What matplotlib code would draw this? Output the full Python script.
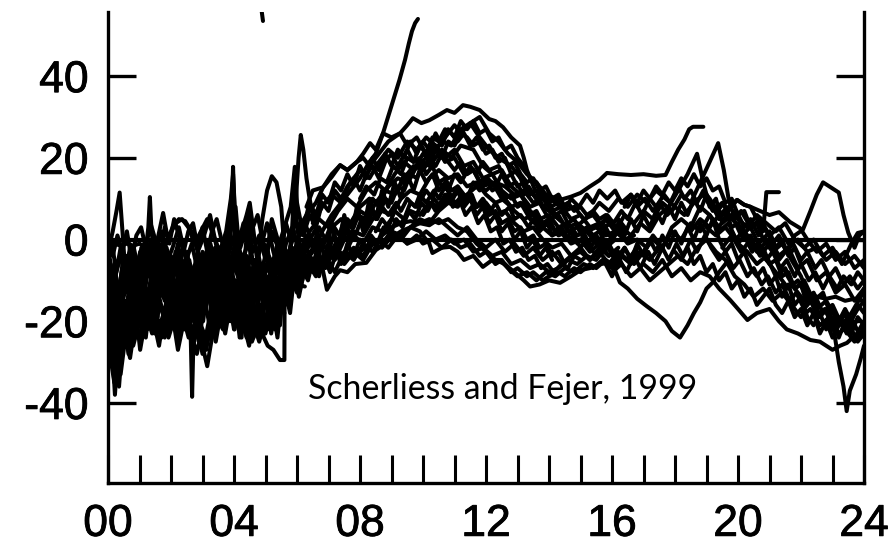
import matplotlib
matplotlib.use("Agg")
import matplotlib.pyplot as plt
import matplotlib.patheffects as pe
from matplotlib.ticker import FixedLocator, FuncFormatter

# Vertical plasma drift (m/s) versus local time (h), one trace per day.
# Each trace is a list of (local_time, drift) vertices.

night_01 = [(0.00, -6), (0.10, -22), (0.22, -38), (0.32, -27), (0.45, -18), (0.60, -24), (0.75, -12),
            (0.90, -17), (1.05, -9), (1.25, -14), (1.45, -6), (1.65, -16), (1.85, -21), (2.05, -12),
            (2.25, -18), (2.45, -8), (2.65, -14), (2.85, -4), (3.05, -11), (3.25, -6), (3.45, -15),
            (3.65, -8), (3.85, -13), (4.05, -4), (4.25, -10), (4.45, -18), (4.65, -9), (4.85, -14),
            (5.05, -6), (5.25, -11), (5.45, -3), (5.65, -8), (5.85, -2), (6.05, -6), (6.25, -1), (6.45, -5)]
night_02 = [(0.00, -3), (0.15, 2), (0.27, 7), (0.37, 11.5), (0.45, 3), (0.55, -8), (0.70, -2), (0.85, -11),
            (1.00, -4), (1.15, -1), (1.30, -9), (1.50, -3), (1.70, 2), (1.85, -6), (2.05, -2), (2.25, 3),
            (2.45, -4), (2.65, -10), (2.85, -3), (3.05, 1), (3.24, 6), (3.45, -2), (3.65, -9), (3.85, -3),
            (4.05, 2), (4.25, -5), (4.45, -1), (4.65, -7), (4.85, -2), (5.05, 4), (5.25, -3), (5.45, -8),
            (5.65, -1), (5.85, 3), (6.05, -2), (6.30, -6), (6.55, -1)]
night_03 = [(0.00, -12), (0.15, -18), (0.30, -31), (0.42, -20), (0.55, -15), (0.75, -22), (0.95, -14),
            (1.15, -6), (1.28, 3), (1.33, 10.4), (1.38, 2), (1.55, -8), (1.75, -14), (1.95, -7), (2.15, -13),
            (2.35, -5), (2.55, -11), (2.75, -16), (2.95, -9), (3.15, -14), (3.35, -6), (3.55, -12),
            (3.75, -4), (3.92, 5), (3.97, 17.8), (4.02, 6), (4.15, -6), (4.35, -14), (4.55, -7), (4.75, -16),
            (4.95, -10), (5.15, -19), (5.35, -12), (5.55, -6), (5.75, -10), (5.95, -4), (6.15, -9), (6.40, -5)]
night_04 = [(0.00, -8), (0.20, -14), (0.35, -24), (0.50, -17), (0.65, -28), (0.80, -19), (0.95, -21),
            (1.15, -16), (1.35, -20), (1.55, -13), (1.75, -18), (1.95, -22), (2.15, -15), (2.35, -19),
            (2.55, -14), (2.63, -25), (2.67, -38.5), (2.72, -22), (2.85, -17), (3.00, -26), (3.15, -31),
            (3.30, -24), (3.45, -18), (3.65, -21), (3.85, -12), (4.05, -17), (4.25, -21), (4.45, -14),
            (4.65, -19), (4.85, -12), (5.05, -16), (5.25, -9), (5.45, -13), (5.65, -7), (5.85, -11),
            (6.05, -6), (6.30, -9)]
night_05 = [(0.00, -15), (0.20, -10), (0.40, -4), (0.60, -9), (0.80, -3), (1.00, -7), (1.20, -1), (1.40, -5),
            (1.60, 1), (1.75, 6.5), (1.90, 0), (2.05, 3), (2.25, 5), (2.45, 4.5), (2.65, 2), (2.85, -3),
            (3.05, -6), (3.25, -1), (3.45, -7), (3.65, -2), (3.85, -8), (4.05, -3), (4.25, 2), (4.40, 6),
            (4.50, 9), (4.62, 2), (4.75, -6), (4.90, 5), (5.05, 12), (5.20, 15.5), (5.35, 14), (5.50, 8),
            (5.60, -2), (5.75, -9), (5.95, -4), (6.15, -8), (6.40, -3)]
night_06 = [(0.00, -20), (0.20, -27), (0.35, -36), (0.45, -26), (0.65, -19), (0.85, -24), (1.05, -19),
            (1.25, -22), (1.45, -17), (1.65, -21), (1.85, -16), (2.05, -20), (2.25, -23), (2.45, -16),
            (2.65, -20), (2.85, -13), (3.05, -18), (3.25, -12), (3.45, -19), (3.65, -22), (3.85, -15),
            (4.05, -19), (4.25, -17), (4.40, -23), (4.57, -25), (4.75, -21), (4.95, -24), (5.07, -26),
            (5.25, -27), (5.46, -29.5), (5.60, -29.5), (5.61, -4), (5.80, -6), (6.00, -11), (6.25, -11.5)]
night_07 = [(0.00, -10), (0.20, -16), (0.40, -12), (0.60, -20), (0.80, -26), (1.00, -20), (1.20, -13),
            (1.40, -18), (1.60, -10), (1.80, -15), (2.00, -9), (2.20, -24), (2.40, -17), (2.60, -11),
            (2.80, -19), (3.00, -12), (3.20, -20), (3.40, -15), (3.60, -21), (3.80, -14), (4.00, -20),
            (4.20, -11), (4.40, -16), (4.60, -22), (4.80, -17), (5.00, -23), (5.20, -15), (5.40, -20),
            (5.60, -12), (5.80, -7), (6.00, -10), (6.20, -4), (6.40, -8)]
night_08 = [(0.00, -1), (0.20, -1), (0.40, -1.5), (0.60, -1), (0.80, -1.5), (1.00, -1), (1.20, -2),
            (1.40, -1), (1.60, -1), (1.75, -3), (1.95, 1), (2.15, 4), (2.35, 5), (2.55, 3), (2.75, -1),
            (2.95, 2), (3.15, 5), (3.35, 1), (3.55, -3), (3.75, 2), (3.90, 10), (3.97, 16), (4.05, 4),
            (4.20, -2), (4.40, 3), (4.60, -3), (4.80, 1), (5.00, -5), (5.20, 2), (5.40, -2), (5.60, 3),
            (5.80, 8), (5.93, 17.8), (6.00, 9), (6.15, 3), (6.35, -1), (6.55, 2)]
night_09 = [(0.00, -2), (0.15, -9), (0.30, -15), (0.45, -7), (0.60, -13), (0.80, -5), (1.00, -10),
            (1.20, -3), (1.40, -11), (1.60, -6), (1.80, -12), (2.00, -4), (2.20, -9), (2.40, -2), (2.60, -7),
            (2.80, -12), (3.00, -5), (3.20, -10), (3.40, -3), (3.60, -8), (3.80, -13), (4.00, -6),
            (4.20, -11), (4.40, -4), (4.60, -12), (4.80, -6), (5.00, -13), (5.20, -7), (5.40, -14),
            (5.60, -8), (5.80, -12), (6.00, -7), (6.20, -3), (6.40, -7)]
night_10 = [(0.00, -25), (0.10, -30), (0.20, -35), (0.30, -28), (0.40, -33), (0.55, -24), (0.70, -29),
            (0.85, -21), (1.00, -24), (1.20, -18), (1.40, -23), (1.60, -20), (1.80, -24), (2.00, -17),
            (2.20, -21), (2.40, -18), (2.60, -23), (2.80, -20), (3.00, -28), (3.20, -24), (3.40, -17),
            (3.60, -13), (3.80, -18), (4.00, -11), (4.20, -19), (4.40, -24), (4.60, -20), (4.80, -25),
            (5.00, -19), (5.20, -22), (5.40, -16), (5.60, -18)]
night_11 = [(0.00, -14), (0.20, -6), (0.40, -18), (0.60, -10), (0.80, -16), (1.00, -11), (1.20, -17),
            (1.40, -9), (1.60, -15), (1.80, -9), (2.00, -16), (2.20, -10), (2.40, -14), (2.60, -6),
            (2.80, -10), (3.00, -3), (3.20, -8), (3.40, -2), (3.60, -6), (3.80, 1), (3.95, 12), (4.05, -2),
            (4.20, -8), (4.30, -18), (4.45, -22), (4.60, -14), (4.70, -23), (4.85, -16), (5.00, -21),
            (5.15, -12), (5.30, -22), (5.45, -14), (5.60, -5), (5.80, -9), (6.00, -4), (6.20, -8)]
night_12 = [(0.00, -17), (0.15, -23), (0.30, -19), (0.50, -12), (0.70, -7), (0.90, -12), (1.10, -18),
            (1.30, -12), (1.50, -20), (1.70, -24), (1.90, -18), (2.10, -11), (2.30, -14), (2.50, -21),
            (2.70, -26), (2.90, -20), (3.10, -24), (3.30, -16), (3.50, -10), (3.70, -16), (3.90, -7),
            (4.10, -13), (4.30, -8), (4.50, -13), (4.70, -5), (4.90, -11), (5.10, -4), (5.30, -7),
            (5.50, 0), (5.70, -4), (5.90, 1), (6.10, -3)]
night_13 = [(4.86, 57), (4.92, 53.5)]
night_14 = [(0.00, -9), (0.12, -16), (0.25, -11), (0.38, -24), (0.50, -15), (0.62, -21), (0.78, -8),
            (0.92, -13), (1.08, -22), (1.22, -15), (1.38, -19), (1.52, -8), (1.68, -12), (1.82, -4),
            (1.98, -10), (2.12, -19), (2.28, -13), (2.42, -22), (2.58, -15), (2.72, -9), (2.88, -14),
            (3.02, -20), (3.18, -10), (3.32, -16), (3.48, -7), (3.62, -12), (3.78, -18), (3.92, -9),
            (4.08, -14), (4.22, -5), (4.38, -12), (4.52, -20), (4.68, -11), (4.82, -22), (4.98, -13),
            (5.12, -18), (5.28, -8), (5.42, -15), (5.58, -10), (5.72, -14), (5.88, -6), (6.02, -11),
            (6.18, -5), (6.35, -9)]
night_15 = [(0.00, -18), (0.10, -12), (0.22, -20), (0.35, -14), (0.48, -22), (0.62, -16), (0.75, -5),
            (0.88, -9), (1.02, -3), (1.18, -12), (1.32, -17), (1.48, -23), (1.62, -14), (1.78, -19),
            (1.92, -11), (2.08, -6), (2.22, -1), (2.38, -8), (2.52, -3), (2.68, -17), (2.82, -22),
            (2.98, -14), (3.12, -8), (3.28, -18), (3.42, -23), (3.58, -16), (3.72, -10), (3.88, -20),
            (4.02, -13), (4.18, -24), (4.32, -17), (4.48, -21), (4.62, -10), (4.78, -4), (4.92, -9),
            (5.08, -15), (5.22, -6), (5.38, -1), (5.52, -7), (5.68, -3), (5.82, -8), (5.98, -1), (6.12, -5)]
night_16 = [(0.00, 0), (0.15, -4), (0.30, 1), (0.45, -3), (0.60, 2), (0.75, -5), (0.90, 1), (1.05, 3),
            (1.20, -2), (1.35, 4), (1.50, 0), (1.65, -4), (1.80, 3), (1.95, -1), (2.10, 5), (2.25, 1),
            (2.40, -3), (2.55, 2), (2.70, 4), (2.85, -2), (3.00, 3), (3.15, -3), (3.30, 2), (3.45, 5),
            (3.60, 0), (3.75, -4), (3.90, 3), (4.05, 8), (4.15, -1), (4.30, 4), (4.45, -2), (4.60, 3),
            (4.75, 6), (4.90, 0), (5.05, -3), (5.20, 5), (5.35, 1), (5.50, -3), (5.65, 4), (5.80, 0),
            (5.95, 5), (6.10, 1), (6.25, 4), (6.45, 0)]
night_17 = [(0.00, -30), (0.15, -22), (0.28, -33), (0.42, -24), (0.58, -18), (0.72, -25), (0.88, -17),
            (1.02, -27), (1.18, -20), (1.32, -14), (1.48, -21), (1.62, -26), (1.78, -18), (1.92, -24),
            (2.08, -20), (2.22, -27), (2.38, -21), (2.52, -16), (2.68, -24), (2.82, -28), (2.98, -22),
            (3.12, -27), (3.28, -19), (3.42, -25), (3.58, -18), (3.72, -23), (3.88, -16), (4.02, -22),
            (4.18, -15), (4.32, -21), (4.48, -26), (4.62, -19), (4.78, -23), (4.92, -18), (5.08, -22),
            (5.22, -16), (5.38, -24), (5.52, -13)]
night_18 = [(0.00, -11), (0.18, -7), (0.34, -13), (0.50, -4), (0.66, -10), (0.82, -2), (0.98, -8),
            (1.14, -14), (1.30, -6), (1.46, -11), (1.62, -5), (1.78, -10), (1.94, -16), (2.10, -8),
            (2.26, -3), (2.42, -10), (2.58, -5), (2.74, -12), (2.90, -18), (3.06, -10), (3.22, -15),
            (3.38, -9), (3.54, -4), (3.70, -9), (3.86, -2), (3.96, 14), (4.04, -3), (4.20, -9), (4.36, -3),
            (4.48, 8), (4.56, -4), (4.72, -11), (4.88, -6), (5.04, -14), (5.20, -8), (5.36, -13),
            (5.52, -4), (5.68, -9), (5.84, 2), (5.92, 14), (6.00, 3), (6.16, -4), (6.32, -1)]
night_19 = [(0.00, -22), (0.14, -15), (0.28, -25), (0.42, -12), (0.56, -19), (0.70, -11), (0.84, -16),
            (0.98, -7), (1.12, -12), (1.26, -18), (1.40, -12), (1.54, -17), (1.68, -9), (1.82, -13),
            (1.96, -7), (2.10, -14), (2.24, -20), (2.38, -12), (2.52, -18), (2.66, -10), (2.80, -6),
            (2.94, -12), (3.08, -7), (3.22, -13), (3.36, -20), (3.50, -14), (3.64, -19), (3.78, -11),
            (3.92, -17), (4.06, -10), (4.20, -16), (4.34, -11), (4.48, -19), (4.62, -24), (4.76, -15),
            (4.90, -20), (5.04, -12), (5.18, -23), (5.32, -17), (5.46, -21), (5.56, -12), (5.70, -16),
            (5.84, -10), (6.00, -13), (6.20, -7)]
night_20 = [(0.00, -5), (0.13, -1), (0.26, -8), (0.40, -2), (0.53, -12), (0.66, -6), (0.80, -14),
            (0.93, -8), (1.06, -2), (1.20, -7), (1.33, -1), (1.46, -9), (1.60, -3), (1.73, -8), (1.86, -2),
            (2.00, -7), (2.13, -13), (2.26, -6), (2.40, -11), (2.53, -4), (2.66, -1), (2.80, -6),
            (2.93, -11), (3.06, -5), (3.20, -2), (3.33, -8), (3.46, -12), (3.60, -5), (3.73, -1),
            (3.86, -6), (4.00, -2), (4.13, -9), (4.26, -4), (4.40, -10), (4.53, -3), (4.66, -8),
            (4.80, -13), (4.93, -6), (5.06, -2), (5.20, -9), (5.33, -4), (5.46, -10), (5.60, -2),
            (5.73, -6), (5.86, -3), (6.00, -8), (6.13, -2), (6.30, -6)]
night_21 = [(0.00, -13), (0.12, -19), (0.24, -8), (0.36, -17), (0.50, -26), (0.64, -14), (0.78, -20),
            (0.92, -11), (1.06, -17), (1.20, -24), (1.34, -14), (1.48, -4), (1.62, -10), (1.76, -6),
            (1.90, -13), (2.04, -20), (2.18, -16), (2.32, -6), (2.46, -13), (2.60, -18), (2.74, -13),
            (2.88, -25), (3.02, -18), (3.16, -10), (3.30, -4), (3.44, -10), (3.58, -14), (3.72, -7),
            (3.86, -15), (4.00, -22), (4.14, -14), (4.28, -20), (4.42, -9), (4.56, -16), (4.70, -12),
            (4.84, -19), (4.98, -23), (5.12, -16), (5.26, -20), (5.40, -11), (5.54, -17), (5.68, -10),
            (5.82, -4), (5.96, -9), (6.10, -12), (6.30, -6)]
night_22 = [(0.00, -7), (0.16, -12), (0.32, -20), (0.46, -10), (0.60, -4), (0.74, -15), (0.88, -22),
            (1.02, -16), (1.16, -9), (1.30, -3), (1.44, -14), (1.58, -19), (1.72, -2), (1.86, -8),
            (2.00, -13), (2.14, -3), (2.28, -9), (2.42, -20), (2.56, -24), (2.70, -15), (2.84, -9),
            (2.98, -18), (3.12, -3), (3.26, -11), (3.40, -17), (3.54, -21), (3.68, -13), (3.82, -6),
            (3.96, -12), (4.10, -18), (4.24, -24), (4.38, -6), (4.52, -14), (4.66, -5), (4.80, -9),
            (4.94, -17), (5.08, -9), (5.22, -13), (5.36, -19), (5.50, -9), (5.64, -13), (5.78, -18),
            (5.92, -8), (6.06, -14), (6.22, -8)]

day_01 = [(6.0, 2), (6.3, 6), (6.6, 9), (6.83, 12.8), (7.1, 16), (7.37, 18.2), (7.6, 17), (7.9, 19),
          (8.1, 21), (8.32, 23.6), (8.5, 22), (8.73, 26), (9.0, 25), (9.27, 26), (9.5, 28), (9.68, 29.7),
          (9.95, 28.5), (10.2, 29.2), (10.5, 30.5), (10.76, 31.7), (11.0, 31), (11.27, 32.9), (11.5, 32.5),
          (11.8, 31.7), (12.1, 29.5), (12.3, 29), (12.54, 27.5), (12.8, 25), (13.08, 23), (13.2, 20),
          (13.3, 17), (13.56, 12), (13.9, 11), (14.35, 9.7), (14.7, 10.5), (15.0, 11.4), (15.3, 13),
          (15.6, 14.5), (15.84, 16.3), (16.2, 16), (16.6, 15.8), (17.0, 16), (17.4, 15.6), (17.7, 15.8),
          (17.9, 19), (18.1, 22), (18.3, 24.5), (18.45, 27), (18.57, 27.6), (18.9, 27.6)]
day_02 = [(5.9, -3), (6.2, -6), (6.5, -3), (6.8, 2), (7.1, 6), (7.4, 9), (7.7, 12), (8.0, 15), (8.3, 19),
          (8.5, 21), (8.73, 26), (9.05, 34), (9.25, 39), (9.43, 44), (9.55, 48), (9.65, 51), (9.75, 53),
          (9.84, 54)]
day_03 = [(5.8, -2), (5.95, 8), (6.05, 20), (6.12, 25.6), (6.2, 22), (6.3, 15), (6.4, 10), (6.55, 4),
          (6.7, -3), (6.95, -12.3), (7.2, -9), (7.37, -7.5), (7.6, -8), (7.85, -6), (8.2, -5.7), (8.5, -2.6),
          (8.8, -1), (9.0, 0.5), (9.3, 2), (9.6, 3), (9.9, 4), (10.2, 5), (10.5, 4), (10.8, 5), (11.1, 3),
          (11.4, 2), (11.7, -1), (12.0, -3), (12.3, -5), (12.6, -6), (12.9, -8), (13.2, -10), (13.4, -11.5),
          (13.7, -11), (14.0, -10), (14.35, -10.6), (14.7, -9), (15.0, -7.5), (15.3, -7), (15.6, -6),
          (16.0, -5.7), (16.25, -10.5), (16.5, -12), (16.8, -14.5), (17.1, -16.3), (17.4, -18), (17.7, -20),
          (17.9, -22.4), (18.16, -24), (18.4, -21), (18.6, -18), (18.8, -15.4), (19.0, -12), (19.2, -10.5),
          (19.4, -8), (19.7, -5)]
day_04 = [(6.0, -8), (6.3, -5), (6.6, -9), (6.9, -6), (7.2, -3), (7.5, -5), (7.8, -2), (8.1, -4), (8.4, 0),
          (8.7, -1), (9.0, 2), (9.3, 1), (9.6, 3), (9.9, 2), (10.2, -1), (10.3, -3.3), (10.6, -2),
          (10.86, -1.8), (11.1, -3), (11.3, -5), (11.6, -4), (11.9, -6.7), (12.2, -5), (12.44, -5),
          (12.7, -7), (13.0, -9), (13.3, -8), (13.6, -10), (13.9, -8), (14.2, -9), (14.5, -7), (14.8, -8),
          (15.1, -6), (15.4, -7), (15.7, -5), (16.0, -7), (16.3, -4), (16.6, -6), (16.9, -3), (17.2, -5),
          (17.5, -2)]
day_05 = [(6.2, -4), (6.5, 0), (6.8, -2), (7.1, 3), (7.4, 5), (7.7, 4), (8.0, 8), (8.3, 10), (8.6, 9),
          (8.9, 13), (9.2, 15), (9.5, 14), (9.8, 18), (10.1, 20), (10.4, 22), (10.7, 25), (11.0, 28),
          (11.2, 26), (11.5, 28.5), (11.8, 25), (12.1, 22), (12.4, 20), (12.8, 18), (13.1, 15), (13.4, 12),
          (13.7, 9), (14.0, 7), (14.3, 5), (14.6, 3), (14.9, 4), (15.2, 2), (15.5, 3), (15.8, 1), (16.1, 2),
          (16.4, 0), (16.7, 1)]
day_06 = [(6.4, 2), (6.7, 5), (7.0, 3), (7.3, 7), (7.6, 10), (7.9, 8), (8.2, 12), (8.5, 14), (8.8, 12),
          (9.1, 16), (9.4, 19), (9.7, 17), (10.0, 21), (10.3, 19), (10.6, 22), (10.9, 20), (11.2, 23),
          (11.6, 22), (11.9, 18), (12.2, 16), (12.5, 17), (12.8, 13), (13.1, 11), (13.4, 8), (13.7, 9),
          (14.0, 5), (14.3, 6), (14.6, 2), (14.9, 3), (15.2, -1), (15.5, 1), (15.8, -2), (16.1, 0)]
day_07 = [(6.0, -10), (6.3, -6), (6.6, -8), (6.9, -3), (7.2, -5), (7.5, 0), (7.8, 2), (8.1, 1), (8.4, 5),
          (8.7, 7), (9.0, 6), (9.3, 10), (9.6, 12), (9.9, 11), (10.2, 15), (10.5, 17), (10.8, 15),
          (11.1, 16), (11.4, 13), (11.7, 14), (12.0, 11), (12.3, 9), (12.6, 10), (12.9, 7), (13.2, 5),
          (13.5, 6), (13.8, 3), (14.1, 1), (14.4, 2), (14.7, -1), (15.0, 0), (15.3, -3), (15.6, -1),
          (15.9, -4), (16.2, -2)]
day_08 = [(6.5, 4), (6.8, 8), (7.1, 11), (7.4, 9), (7.7, 14), (8.0, 17), (8.3, 15), (8.6, 19), (8.9, 22),
          (9.2, 20), (9.5, 24), (9.8, 22), (10.1, 25), (10.4, 23), (10.7, 20), (11.0, 22), (11.3, 18),
          (11.6, 19), (11.9, 15), (12.2, 16), (12.5, 12), (12.8, 10), (13.1, 11), (13.4, 7), (13.7, 5),
          (14.0, 6), (14.3, 3), (14.6, 4), (14.9, 1), (15.2, 2), (15.5, -1)]
day_09 = [(6.0, -5), (6.3, -9), (6.6, -4), (6.9, -7), (7.2, -2), (7.5, -4), (7.8, 1), (8.1, -1), (8.4, 3),
          (8.7, 2), (9.0, 5), (9.3, 4), (9.6, 7), (9.9, 6), (10.2, 9), (10.5, 8), (10.8, 10), (11.1, 9),
          (11.4, 11), (11.7, 8), (12.0, 9), (12.3, 6), (12.6, 7), (12.9, 4), (13.2, 2), (13.5, 3), (13.8, 0),
          (14.1, -2), (14.4, -1), (14.7, -4), (15.0, -2), (15.3, -5), (15.6, -3), (15.9, -6), (16.2, -3),
          (16.5, -5), (16.8, -2)]
day_10 = [(7.0, -4), (7.3, 0), (7.6, 3), (7.9, 6), (8.2, 5), (8.5, 9), (8.8, 12), (9.1, 11), (9.4, 15),
          (9.7, 18), (10.0, 17), (10.3, 21), (10.6, 24), (10.9, 23), (11.2, 27), (11.5, 28.5), (11.8, 30),
          (12.1, 26), (12.4, 24), (12.7, 21), (13.0, 19), (13.3, 16), (13.6, 14), (13.9, 11), (14.2, 9),
          (14.5, 7), (14.8, 8), (15.1, 5), (15.4, 6), (15.7, 3), (16.0, 4), (16.3, 2)]
day_11 = [(6.6, -7), (6.9, -4), (7.2, -8), (7.5, -3), (7.8, -5), (8.1, -1), (8.4, -3), (8.7, 1), (9.0, 3),
          (9.3, 4), (9.6, 4.5), (9.9, 4), (10.2, 3.5), (10.5, 5), (10.8, 3), (11.1, 1), (11.4, 3), (11.7, 0),
          (12.0, -2), (12.3, 0), (12.6, -3), (12.9, -1), (13.2, -4), (13.5, -2), (13.8, -5), (14.1, -3),
          (14.4, -6), (14.7, -4), (15.0, -3), (15.3, -5), (15.6, -2), (15.9, -4)]
day_12 = [(6.3, 8), (6.5, 12), (6.83, 12.8), (7.1, 15.3), (7.37, 18.2), (7.6, 17), (7.9, 19), (8.1, 20),
          (8.3, 18), (8.6, 21), (8.9, 24), (9.27, 26), (9.5, 23), (9.8, 25), (10.1, 21), (10.4, 23),
          (10.7, 19), (11.0, 20), (11.3, 16), (11.6, 17), (11.9, 13), (12.2, 14), (12.5, 10), (12.8, 8),
          (13.1, 9), (13.4, 5), (13.7, 3), (14.0, 4), (14.3, 1), (14.6, 2)]
day_13 = [(7.5, -6), (7.8, -3), (8.1, -5), (8.4, -1), (8.7, -2), (9.0, 1), (9.3, 0), (9.6, 3), (9.9, 5),
          (10.2, 4), (10.5, 7), (10.8, 9), (11.1, 8), (11.4, 11), (11.7, 13), (12.0, 12), (12.3, 14),
          (12.6, 13), (12.9, 11), (13.2, 12), (13.5, 9), (13.8, 10), (14.1, 7), (14.4, 8), (14.7, 5),
          (15.0, 6), (15.3, 3), (15.6, 4), (15.9, 1), (16.2, 2), (16.5, -1), (16.8, 0), (17.1, -2)]
day_14 = [(8.0, -3), (8.3, -1), (8.6, 0), (8.9, -2), (9.2, 1), (9.5, -1), (9.8, 0), (10.1, 2), (10.4, 0),
          (10.7, 1), (11.0, -1), (11.3, 0), (11.6, -3), (11.9, -2), (12.2, -4), (12.5, -3), (12.8, -6),
          (13.1, -5), (13.4, -7), (13.7, -6), (14.0, -8), (14.3, -7), (14.6, -5), (14.9, -6), (15.2, -4),
          (15.5, -5), (15.8, -2), (16.1, -3)]
day_15 = [(6.2, -8), (6.4, -4), (6.6, -6), (6.8, -1), (7.0, -3), (7.2, 2), (7.4, 1), (7.6, 5), (7.8, 3),
          (8.0, 7), (8.2, 6), (8.4, 10), (8.6, 8), (8.8, 12), (9.0, 14), (9.2, 12), (9.4, 16), (9.6, 15),
          (9.8, 18), (10.0, 17), (10.2, 20), (10.4, 18), (10.6, 21), (10.8, 19), (11.0, 17), (11.2, 19),
          (11.4, 16), (11.6, 17), (11.8, 14), (12.0, 15), (12.2, 12), (12.4, 13), (12.6, 10), (12.8, 11),
          (13.0, 8), (13.2, 9), (13.4, 6), (13.6, 7), (13.8, 4), (14.0, 5), (14.2, 2), (14.4, 3), (14.6, 0),
          (14.8, 1), (15.0, -2), (15.2, 0), (15.4, -3)]
day_16 = [(6.8, -6), (7.0, -2), (7.2, -4), (7.4, 0), (7.6, 2), (7.8, 0), (8.0, 4), (8.2, 3), (8.4, 7),
          (8.6, 6), (8.8, 10), (9.0, 9), (9.2, 13), (9.4, 12), (9.6, 16), (9.8, 15), (10.0, 19), (10.2, 18),
          (10.4, 22), (10.6, 20), (10.8, 24), (11.0, 23), (11.2, 26), (11.4, 25), (11.6, 23), (11.8, 24),
          (12.0, 21), (12.2, 22), (12.4, 19), (12.6, 20), (12.8, 16), (13.0, 17), (13.2, 13), (13.4, 11),
          (13.6, 12), (13.8, 8), (14.0, 9), (14.2, 6), (14.4, 7), (14.6, 4), (14.8, 5), (15.0, 2),
          (15.2, 3), (15.4, 1), (15.6, 2), (15.8, -1), (16.0, 0)]
day_17 = [(6.1, -3), (6.3, 1), (6.5, -2), (6.7, 3), (6.9, 0), (7.1, 4), (7.35, 1), (7.5, 5), (7.7, 3),
          (7.95, 6), (8.1, 4), (8.3, 7), (8.55, 5), (8.7, 8), (8.9, 6), (9.15, 9), (9.3, 7), (9.5, 10),
          (9.75, 8), (9.9, 11), (10.1, 9), (10.35, 12), (10.5, 10), (10.7, 13), (10.95, 10), (11.1, 12),
          (11.3, 9), (11.55, 11), (11.7, 8), (11.9, 10), (12.15, 7), (12.3, 9), (12.5, 6), (12.75, 8),
          (12.9, 5), (13.1, 6), (13.35, 3), (13.5, 5), (13.7, 2), (13.95, 4), (14.1, 1), (14.3, 3),
          (14.55, 0), (14.7, 2), (14.9, -1), (15.15, 1), (15.3, -2), (15.5, 0), (15.75, -3), (15.9, -1),
          (16.1, -4)]
day_18 = [(6.0, 4), (6.2, 1), (6.4, 6), (6.6, 3), (6.8, 9), (7.0, 7), (7.2, 12), (7.4, 10), (7.6, 13),
          (7.8, 15), (8.0, 12), (8.2, 16), (8.4, 18), (8.6, 15), (8.8, 19), (9.0, 21), (9.2, 18), (9.5, 22),
          (9.7, 19), (9.9, 20), (10.1, 16), (10.3, 18), (10.5, 14), (10.7, 15), (10.9, 12), (11.1, 13),
          (11.3, 10), (11.5, 11), (11.7, 8), (11.9, 9), (12.1, 6), (12.3, 7), (12.5, 4), (12.7, 5), (12.9, 2),
          (13.1, 3), (13.3, 0), (13.5, 1), (13.7, -2), (13.9, -1), (14.1, -4), (14.3, -3), (14.5, -6)]
day_19 = [(8.5, 2), (8.7, 5), (8.9, 3), (9.1, 7), (9.4, 5), (9.6, 9), (9.8, 8), (10.1, 12), (10.3, 10),
          (10.5, 14), (10.8, 12), (11.0, 16), (11.2, 14), (11.5, 18), (11.7, 16), (11.9, 19), (12.1, 17),
          (12.4, 18), (12.6, 15), (12.8, 16), (13.0, 13), (13.2, 14), (13.4, 12), (13.6, 10), (13.8, 11),
          (14.0, 9), (14.2, 10), (14.4, 8), (14.6, 9), (14.8, 7), (15.0, 8), (15.2, 6), (15.4, 7), (15.6, 5),
          (15.8, 6), (16.0, 4), (16.2, 5), (16.4, 3)]
day_20 = [(9.5, -1), (9.8, 1), (10.0, -1), (10.3, 0), (10.6, -2), (10.9, 0), (11.2, -2), (11.5, -1),
          (11.8, -4), (12.0, -3), (12.3, -6), (12.5, -5), (12.8, -8), (13.0, -7), (13.3, -9), (13.5, -8),
          (13.8, -10), (14.0, -9), (14.3, -8), (14.5, -9), (14.8, -7), (15.0, -8), (15.3, -6), (15.5, -7),
          (15.8, -5), (16.0, -6), (16.3, -4), (16.5, -5), (16.8, -3)]
day_21 = [(5.9, -6), (6.1, -11), (6.3, -4), (6.5, -8), (6.7, 1), (6.9, -5), (7.1, 4), (7.3, -2), (7.5, 6),
          (7.7, 0), (7.9, 8), (8.1, 2), (8.3, 10), (8.5, 5), (8.7, 12), (8.9, 8), (9.1, 14), (9.3, 10),
          (9.5, 16), (9.7, 12), (9.9, 17), (10.1, 14), (10.3, 16), (10.5, 12), (10.7, 14), (10.9, 10),
          (11.1, 12), (11.3, 8), (11.5, 10), (11.7, 6), (11.9, 8), (12.1, 4), (12.3, 6), (12.5, 2), (12.7, 4),
          (12.9, 0), (13.1, 2), (13.3, -2), (13.5, 0), (13.7, -4), (13.9, -2), (14.1, -5)]
day_22 = [(6.2, 3), (6.4, 9), (6.6, 6), (6.8, 11), (7.0, 9), (7.2, 14), (7.4, 12), (7.6, 16), (7.8, 13),
          (8.0, 18), (8.2, 15), (8.4, 20), (8.6, 17), (8.8, 21), (9.0, 18), (9.2, 22), (9.4, 20), (9.6, 24),
          (9.8, 21), (10.0, 24), (10.2, 22), (10.4, 26), (10.6, 23), (10.8, 27), (11.0, 25), (11.2, 29),
          (11.4, 27), (11.6, 29), (11.8, 26), (12.0, 27), (12.2, 24), (12.4, 25), (12.6, 22), (12.8, 23),
          (13.0, 20), (13.2, 18), (13.4, 15), (13.6, 14), (13.8, 11), (14.0, 10)]
day_23 = [(10.0, 6), (10.25, 9), (10.4, 7), (10.7, 11), (10.85, 9), (11.1, 13), (11.4, 10), (11.6, 14),
          (11.8, 12), (12.05, 15), (12.3, 13), (12.5, 16), (12.7, 13), (12.95, 14), (13.2, 11), (13.35, 13),
          (13.6, 10), (13.8, 11), (14.05, 8), (14.3, 9), (14.5, 7), (14.7, 10), (14.95, 8), (15.2, 11),
          (15.4, 9), (15.6, 12), (15.85, 10), (16.1, 12), (16.3, 9), (16.6, 11), (16.8, 8), (17.05, 10),
          (17.3, 7), (17.5, 9), (17.75, 6), (18.0, 8)]
day_24 = [(6.0, -12), (6.15, -7), (6.35, -10), (6.5, -5), (6.7, -9), (6.85, -4), (7.05, -8), (7.25, -3),
          (7.4, -6), (7.6, -1), (7.8, -4), (8.0, 0), (8.2, -3), (8.35, 1), (8.55, -1), (8.75, 3), (8.95, 1),
          (9.15, 5), (9.35, 3), (9.55, 7), (9.75, 5), (9.95, 9), (10.15, 7), (10.35, 10), (10.55, 8),
          (10.75, 11), (10.95, 8), (11.15, 10), (11.35, 6), (11.55, 8), (11.75, 4), (11.95, 6), (12.15, 2),
          (12.35, 3), (12.55, -1), (12.75, 0), (12.95, -3), (13.15, -2), (13.35, -5), (13.55, -4),
          (13.75, -7), (13.95, -6), (14.15, -8), (14.4, -6), (14.6, -7), (14.8, -4), (15.0, -5)]
day_25 = [(8.0, 10), (8.2, 13), (8.45, 11), (8.65, 15), (8.85, 14), (9.05, 18), (9.3, 16), (9.5, 20),
          (9.7, 19), (9.9, 23), (10.1, 21), (10.3, 25), (10.5, 24), (10.7, 27), (10.9, 26), (11.1, 24),
          (11.3, 26), (11.5, 23), (11.7, 25), (11.9, 22), (12.1, 23), (12.3, 20), (12.5, 21), (12.7, 18),
          (12.9, 19), (13.1, 16), (13.3, 14), (13.5, 15), (13.7, 12), (13.9, 13), (14.1, 10), (14.3, 11),
          (14.5, 8)]

eve_02 = [(15.5, 3), (15.8, 5), (16.1, 2), (16.4, 6), (16.7, 4), (17.0, 7), (17.3, 5), (17.6, 9), (17.9, 7),
          (18.2, 11), (18.5, 9), (18.8, 14), (19.1, 19), (19.37, 23.6), (19.55, 17), (19.7, 10), (19.9, 5),
          (20.1, 7), (20.4, 3), (20.7, 5), (21.0, 1), (21.3, 3), (21.6, -1), (21.9, 0), (22.2, -3),
          (22.5, -2), (22.8, -5), (23.1, -3), (23.4, -6), (23.7, -4), (24.0, -7)]
eve_03 = [(16.0, 0), (16.3, 3), (16.6, 1), (16.9, 4), (17.2, 2), (17.5, 6), (17.8, 8), (18.1, 12),
          (18.4, 16), (18.7, 21), (18.9, 14), (19.1, 8), (19.3, 10), (19.5, 4), (19.8, 6), (20.1, 1),
          (20.4, 3), (20.7, -2), (21.0, 0), (21.3, -4), (21.6, -2), (21.9, -7), (22.2, -5), (22.5, -10),
          (22.8, -8), (23.1, -13), (23.4, -11), (23.7, -15), (24.0, -12)]
eve_04 = [(17.0, -3), (17.3, 0), (17.6, -2), (17.9, 2), (18.2, 0), (18.5, 4), (18.8, 2), (19.1, 6),
          (19.4, 3), (19.7, 7), (19.97, 9.7), (20.2, 8.5), (20.4, 8), (20.6, 5), (20.8, 2), (20.9, 11.6),
          (21.3, 11.6)]
eve_05 = [(19.5, -2), (19.8, 1), (20.1, -3), (20.4, 0), (20.7, -4), (21.0, -1), (21.3, -5), (21.6, -2),
          (21.8, 1), (22.06, 2.4), (22.3, 7), (22.5, 11), (22.7, 14), (22.9, 13), (23.2, 11.5), (23.35, 6),
          (23.5, 1.7), (23.7, -2), (23.85, 1), (24.0, 2)]
eve_06 = [(17.0, -6), (17.3, -8), (17.6, -5), (17.9, -9), (18.2, -7), (18.5, -10), (18.8, -8), (19.1, -9),
          (19.4, -12), (19.75, -14.8), (20.0, -17), (20.3, -19.7), (20.6, -18), (21.0, -17), (21.3, -20),
          (21.55, -22), (21.9, -23), (22.3, -24.6), (22.6, -25), (23.0, -27), (23.24, -26), (23.46, -25.3),
          (23.78, -23), (24.0, -20)]
eve_07 = [(21.5, -8), (21.8, -12), (22.1, -10), (22.4, -15), (22.7, -13), (23.0, -20), (23.2, -30),
          (23.35, -36), (23.45, -42), (23.55, -37), (23.75, -33), (23.9, -29), (24.0, -26)]
eve_08 = [(15.5, -4), (15.8, -1), (16.1, -5), (16.4, -2), (16.7, -6), (17.0, -3), (17.3, 1), (17.6, -2),
          (17.9, 3), (18.2, 5), (18.5, 3), (18.8, 8), (19.1, 6), (19.4, 2), (19.7, 4), (20.0, -1),
          (20.3, -3), (20.6, -6), (20.9, -4), (21.2, -9), (21.5, -7), (21.8, -12), (22.1, -15), (22.4, -13),
          (22.7, -18), (23.0, -16), (23.3, -21), (23.6, -18), (23.9, -14), (24.0, -12)]
eve_09 = [(15.0, 4), (15.3, 6), (15.6, 9), (15.9, 7), (16.2, 10), (16.5, 8), (16.8, 11), (17.1, 9),
          (17.4, 12), (17.7, 10), (18.0, 8), (18.3, 6), (18.6, 9), (18.9, 11), (19.2, 7), (19.5, 9),
          (19.8, 5), (20.1, 3), (20.4, 0), (20.7, -3), (21.0, -6), (21.3, -9), (21.6, -12), (21.9, -10),
          (22.2, -14), (22.5, -17), (22.8, -15), (23.1, -19), (23.4, -22), (23.7, -25), (24.0, -22)]
eve_10 = [(16.0, -8), (16.3, -6), (16.6, -9), (16.9, -7), (17.2, -10), (17.5, -8), (17.8, -6), (18.1, -4),
          (18.4, -6), (18.7, -2), (19.0, 0), (19.3, -3), (19.6, -5), (19.9, -9), (20.2, -11), (20.5, -14),
          (20.8, -12), (21.1, -15), (21.4, -13), (21.7, -16), (22.0, -19), (22.3, -17), (22.6, -21),
          (22.9, -19), (23.2, -23), (23.5, -21), (23.8, -17), (24.0, -15)]
eve_11 = [(19.0, 3), (19.3, 1), (19.6, 3), (19.9, 0), (20.2, 2), (20.5, -2), (20.8, 0), (21.1, -3),
          (21.4, -1), (21.7, -5), (22.0, -9), (22.2, -13), (22.5, -14), (22.8, -14.5), (23.1, -14),
          (23.4, -15), (23.7, -14.5), (24.0, -15)]
eve_12 = [(20.0, 5), (20.3, 3), (20.6, 6), (20.9, 4), (21.2, 2), (21.5, 4), (21.8, 0), (22.1, -2),
          (22.4, 0), (22.7, -4), (23.0, -2), (23.3, -6), (23.6, -1), (23.8, 1.6), (24.0, 2)]
eve_13 = [(18.5, 2), (18.8, 5), (19.1, 3), (19.4, 6), (19.7, 8), (19.97, 9.7), (20.2, 8.5), (20.4, 8),
          (20.7, 7), (21.0, 6), (21.3, 6.7), (21.65, 4.3), (21.97, 2.8), (22.2, 0), (22.5, -3), (22.8, -1),
          (23.1, -5), (23.4, -3), (23.7, -7), (24.0, -5)]
eve_14 = [(15.2, -2), (15.4, 1), (15.6, -1), (15.8, 3), (16.0, 0), (16.2, 4), (16.4, 1), (16.6, 5),
          (16.8, 2), (17.0, 6), (17.2, 3), (17.4, 7), (17.6, 4), (17.8, 8), (18.0, 5), (18.2, 9), (18.4, 6),
          (18.6, 10), (18.8, 7), (19.0, 11), (19.2, 8), (19.4, 5), (19.6, 7), (19.8, 3), (20.0, 4),
          (20.2, 0), (20.4, 1), (20.6, -3), (20.8, -2), (21.0, -6), (21.2, -5), (21.4, -9), (21.6, -8),
          (21.8, -12), (22.0, -11), (22.2, -16), (22.4, -14), (22.6, -19), (22.8, -17), (23.0, -22),
          (23.2, -20), (23.4, -17), (23.6, -20), (23.8, -16), (24.0, -18)]
eve_15 = [(16.0, -3), (16.2, -6), (16.4, -2), (16.6, -5), (16.8, -1), (17.0, -4), (17.2, 0), (17.4, -3),
          (17.6, 1), (17.8, -2), (18.0, 2), (18.2, -1), (18.4, 3), (18.6, 0), (18.8, 4), (19.0, 1),
          (19.2, 5), (19.4, 0), (19.6, -3), (19.8, -1), (20.0, -5), (20.2, -3), (20.4, -7), (20.6, -9),
          (20.8, -7), (21.0, -11), (21.2, -9), (21.4, -14), (21.6, -11), (21.8, -16), (22.0, -14),
          (22.2, -19), (22.4, -21), (22.6, -18), (22.8, -22), (23.0, -19), (23.2, -24), (23.4, -20),
          (23.6, -23), (23.8, -19), (24.0, -21)]
eve_16 = [(16.4, 8), (16.6, 11), (16.8, 9), (17.0, 12), (17.2, 10), (17.4, 13), (17.6, 11), (17.8, 14),
          (18.0, 12), (18.2, 15), (18.4, 13), (18.6, 16), (18.8, 13), (19.0, 15), (19.2, 12), (19.4, 13),
          (19.6, 9), (19.8, 10), (20.0, 6), (20.2, 7), (20.4, 3), (20.6, 4), (20.8, 0), (21.0, 2),
          (21.2, -2), (21.4, 0), (21.6, -4), (21.8, -2), (22.0, -6)]
eve_17 = [(18.0, -3), (18.2, -5), (18.4, -2), (18.6, -6), (18.8, -4), (19.0, -8), (19.2, -6), (19.4, -10),
          (19.6, -8), (19.8, -12), (20.0, -10), (20.2, -14), (20.4, -12), (20.6, -16), (20.8, -14),
          (21.0, -12), (21.2, -16), (21.4, -18), (21.6, -15), (21.8, -19), (22.0, -17), (22.2, -21),
          (22.4, -18), (22.6, -23), (22.8, -20), (23.0, -24), (23.2, -21), (23.4, -18), (23.6, -22),
          (23.8, -25), (24.0, -23)]
eve_18 = [(15.6, 2), (15.85, 6), (16.05, 4), (16.3, 7), (16.5, 5), (16.75, 9), (16.95, 6), (17.2, 10),
          (17.4, 8), (17.65, 11), (17.85, 9), (18.1, 13), (18.3, 10), (18.5, 12), (18.7, 9), (18.9, 12),
          (19.1, 10), (19.35, 7), (19.55, 9), (19.75, 5), (19.95, 7), (20.2, 3), (20.4, 5), (20.65, 1),
          (20.85, 3), (21.1, -1), (21.3, 1), (21.55, -3), (21.75, -1), (22.0, -5), (22.2, -3), (22.45, -7),
          (22.65, -5), (22.9, -9), (23.1, -7), (23.35, -11), (23.55, -9), (23.8, -12), (24.0, -10)]
eve_19 = [(15.8, -6), (16.0, -9), (16.25, -5), (16.45, -8), (16.7, -4), (16.9, -7), (17.15, -3), (17.35, -6),
          (17.6, -2), (17.8, -5), (18.05, -1), (18.25, -4), (18.5, 0), (18.7, -3), (18.95, 1), (19.15, -2),
          (19.4, -5), (19.6, -3), (19.85, -7), (20.05, -5), (20.3, -9), (20.5, -7), (20.75, -11),
          (20.95, -9), (21.2, -13), (21.4, -11), (21.65, -15), (21.85, -13), (22.1, -17), (22.3, -15),
          (22.55, -19), (22.75, -17), (23.0, -21), (23.2, -19), (23.45, -23), (23.65, -20), (23.9, -24),
          (24.0, -21)]
eve_20 = [(19.8, 2), (20.0, -1), (20.2, 1), (20.45, -3), (20.65, -1), (20.9, -5), (21.1, -3), (21.35, -7),
          (21.55, -5), (21.8, -9), (22.0, -6), (22.25, -10), (22.45, -8), (22.7, -12), (22.9, -9),
          (23.15, -12), (23.35, -9), (23.6, -11), (23.8, -8), (24.0, -10)]

traces = [night_01, night_02, night_03, night_04, night_05, night_06, night_07, night_08, night_09,
          night_10, night_11, night_12, night_13, night_14, night_15, night_16, night_17, night_18,
          night_19, night_20, night_21, night_22,
          day_01, day_02, day_03, day_04, day_05, day_06, day_07, day_08, day_09, day_10, day_11, day_12,
          day_13, day_14, day_15, day_16, day_17, day_18, day_19, day_20, day_21, day_22, day_23, day_24,
          day_25,
          eve_02, eve_03, eve_04, eve_05, eve_06, eve_07, eve_08, eve_09, eve_10, eve_11, eve_12, eve_13,
          eve_14, eve_15, eve_16, eve_17, eve_18, eve_19, eve_20]

hour_ticks = list(range(0, 25))
hour_labels = ["00", "04", "08", "12", "16", "20", "24"]
drift_ticks = [-40, -20, 0, 20, 40]
credit = "Scherliess and Fejer, 1999"

fig = plt.figure(figsize=(8.94, 5.48), dpi=100)
ax = fig.add_axes([108 / 894, 65 / 548, 756 / 894, 471 / 548])

for tr in traces:
    ax.plot([p[0] for p in tr], [p[1] for p in tr], color="black", lw=2.9,
            solid_joinstyle="round", solid_capstyle="round")

ax.axhline(0, color="black", lw=3.0)

ax.set_xlim(0, 24)
ax.set_ylim(-59.6, 55.7)

ax.spines["top"].set_visible(False)
for s in ("left", "right", "bottom"):
    ax.spines[s].set_linewidth(2.4)

ax.xaxis.set_major_locator(FixedLocator(hour_ticks))
ax.xaxis.set_major_formatter(FuncFormatter(
    lambda v, pos: hour_labels[int(round(v)) // 4] if int(round(v)) % 4 == 0 else ""))
ax.yaxis.set_major_locator(FixedLocator(drift_ticks))
ax.yaxis.set_major_formatter(FuncFormatter(lambda v, pos: "%d" % v))

ax.tick_params(axis="x", direction="in", length=20, width=2.2, pad=15, labelsize=32,
               top=False, bottom=True)
ax.tick_params(axis="y", direction="in", length=20, width=2.4, pad=14, labelsize=32,
               left=True, right=True)
heavy = [pe.withStroke(linewidth=0.6, foreground="black")]
for lab in ax.get_xticklabels() + ax.get_yticklabels():
    lab.set_family("Liberation Sans")
    lab.set_path_effects(heavy)

ax.text(6.35, -39, credit, ha="left", va="baseline", fontsize=24.4, family="Lato", color="black")

fig.savefig("out.png", dpi=100)
